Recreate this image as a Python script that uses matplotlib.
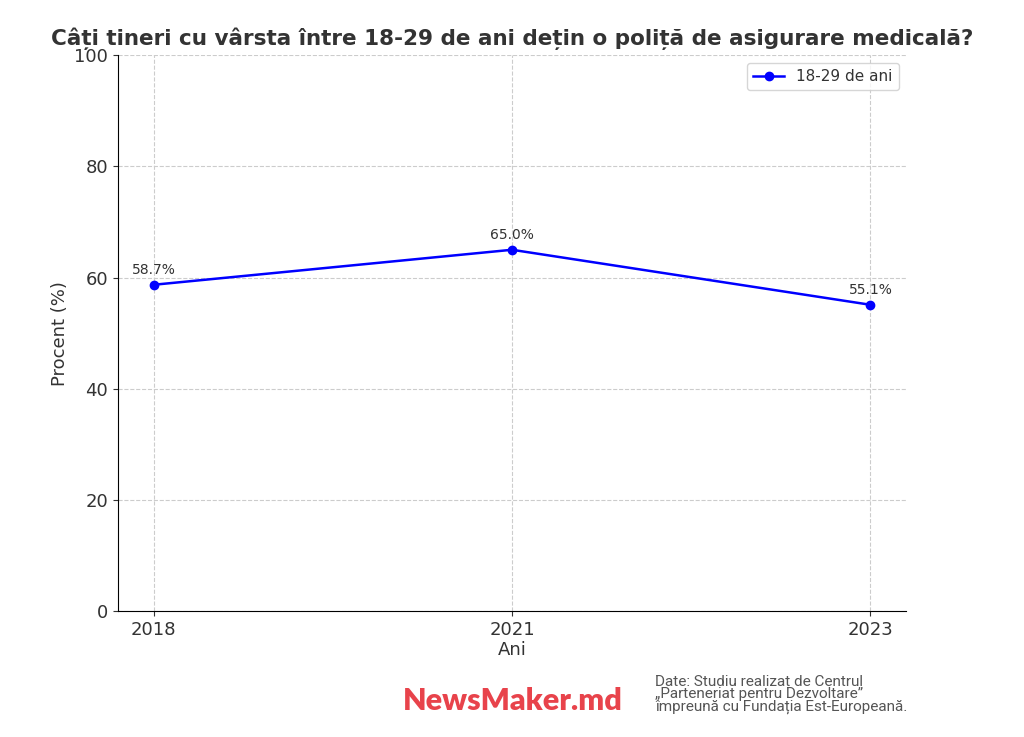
import matplotlib
matplotlib.use('Agg')
import matplotlib.pyplot as plt

# data
years = ['2018', '2021', '2023']
values = [58.7, 65.0, 55.1]
series_label = '18-29 de ani'

TEXT_COLOR = '#333333'

fig = plt.figure(figsize=(10.24, 7.37), dpi=100)
ax = fig.add_axes([0.115, 0.171, 0.77, 0.754])

x = range(len(years))
ax.plot(x, values, color='blue', marker='o', markersize=6, linewidth=1.8, label=series_label)

for xi, v in zip(x, values):
    ax.annotate(f'{v:.1f}%', (xi, v), textcoords='offset points', xytext=(0, 8),
                ha='center', fontsize=10, color=TEXT_COLOR)

ax.set_xticks(list(x))
ax.set_xticklabels(years)
ax.set_xlim(-0.1, 2.1)
ax.set_ylim(0, 100)
ax.set_yticks([0, 20, 40, 60, 80, 100])
ax.tick_params(labelsize=13, colors=TEXT_COLOR)
ax.grid(True, linestyle='--', color='#cccccc', linewidth=0.8)
ax.spines['top'].set_visible(False)
ax.spines['right'].set_visible(False)

ax.set_xlabel('Ani', fontsize=13, color=TEXT_COLOR, labelpad=2)
ax.set_ylabel('Procent (%)', fontsize=13, color=TEXT_COLOR)
fig.text(0.5, 0.948, 'Câți tineri cu vârsta între 18-29 de ani dețin o poliță de asigurare medicală?',
         ha='center', va='center', fontsize=15.5, fontweight='bold', color=TEXT_COLOR)

leg = ax.legend(loc='upper right', fontsize=11, labelcolor=TEXT_COLOR)

fig.text(0.393, 0.049, 'NewsMaker.md', fontsize=22, fontweight='heavy', color='#e8434b',
         family='Lato', va='center', ha='left')
fig.text(0.64, 0.058, 'Date: Studiu realizat de Centrul\n„Parteneriat pentru Dezvoltare”\nîmpreună cu Fundația Est-Europeană.',
         fontsize=11, color='#555555', family='Roboto', va='center', ha='left',
         linespacing=0.85)

fig.savefig('out.png', dpi=100)
